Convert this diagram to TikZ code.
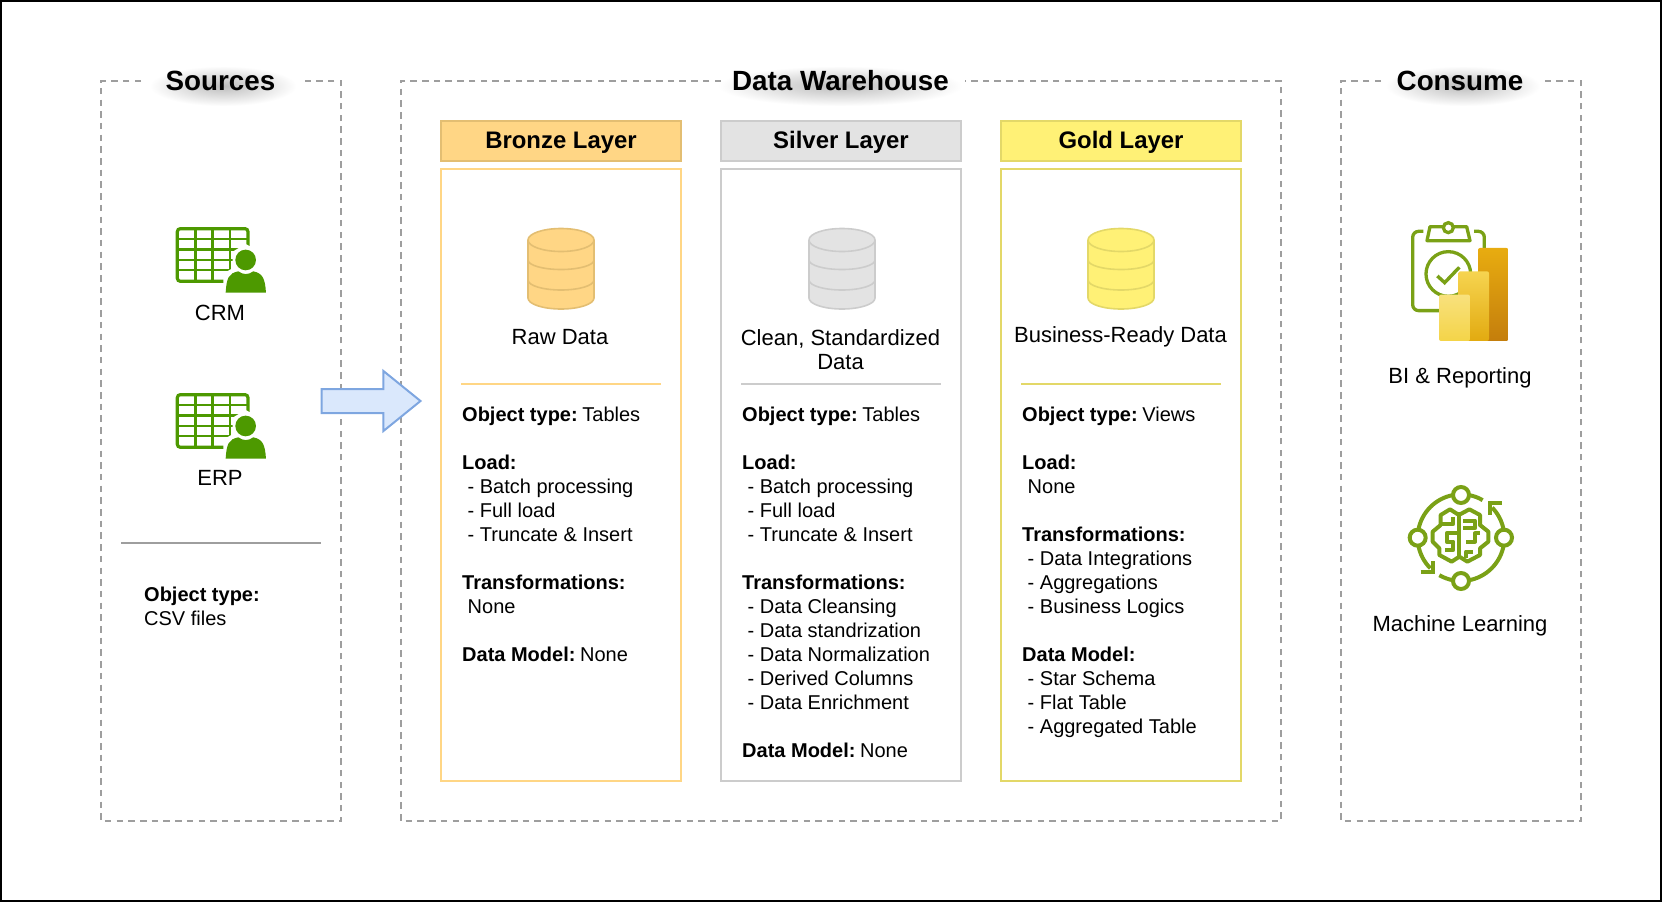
\documentclass[tikz,border=0pt]{standalone}
\usepackage{fontspec}
\setmainfont{Liberation Sans}
\usetikzlibrary{fadings,shapes.arrows}
\definecolor{zonegray}{HTML}{9E9E9E}
\definecolor{bronzefill}{HTML}{FFD685}
\definecolor{bronzeline}{HTML}{E3BE72}
\definecolor{silverfill}{HTML}{E3E3E3}
\definecolor{silverline}{HTML}{CCCCCC}
\definecolor{goldfill}{HTML}{FFF176}
\definecolor{goldline}{HTML}{E3D868}
\definecolor{csvgreen}{HTML}{4D9900}
\definecolor{iconolive}{HTML}{7AA116}
\definecolor{arrowline}{HTML}{7EA6E0}
\definecolor{arrowfill}{HTML}{DAE8FC}
\tikzfading[name=titlefuzz,inner color=transparent!74,outer color=transparent!100]
\tikzset{
  zonebox/.style={draw=zonegray,line width=1.8pt,dash pattern=on 6.5pt off 5.2pt},
  zonetitle/.style={font=\fontsize{27.8}{30}\selectfont\bfseries,inner sep=0pt,text height=20pt,text depth=6pt},
  layerhead/.style={line width=2pt,minimum width=240pt,minimum height=40pt,inner sep=0pt,text height=18pt,text depth=4pt,font=\fontsize{23.9}{26}\selectfont\bfseries},
  layerbody/.style={line width=2pt,minimum width=240pt,minimum height=612pt,inner sep=0pt},
  plainlabel/.style={font=\fontsize{22}{24}\selectfont,inner sep=0pt,align=center},
  notes/.style={font=\fontsize{20}{24}\selectfont,inner sep=0pt,align=left,anchor=north west},
}
% data store icon: x, fill, line
\newcommand{\datastore}[3]{
  \filldraw[fill=#2,draw=#3,line width=1.6pt] (#1-33,240) arc[start angle=180,end angle=360,x radius=33,y radius=11.5]
    -- (#1+33,298) arc[start angle=0,end angle=180,x radius=33,y radius=11] -- cycle;
  \draw[draw=#3,line width=1.6pt] (#1-33,240) arc[start angle=180,end angle=0,x radius=33,y radius=11.5];
  \draw[draw=#3,line width=1.6pt] (#1-33,260) arc[start angle=180,end angle=0,x radius=33,y radius=9.5];
  \draw[draw=#3,line width=1.6pt] (#1-33,280) arc[start angle=180,end angle=0,x radius=33,y radius=10];
}
% table with person icon: shift of the zoomed grid
\newcommand{\csvicon}[1]{
  \begin{scope}[shift={(#1)},x=0.3333pt,y=-0.3333pt]
    \draw[csvgreen,line width=3.2pt,rounded corners=3pt] (262,506) rectangle (474,664);
    \draw[csvgreen,line width=2.4pt] (316,506)--(316,664) (368,506)--(368,664) (420,506)--(420,664);
    \draw[csvgreen,line width=2.4pt] (262,537)--(474,537) (262,568)--(474,568) (262,600)--(474,600) (262,630)--(474,630);
    \fill[white] (400,675)--(400,640)--(428,625)--(428,575)--(467,552)--(510,575)--(540,700)--(400,700)--cycle;
    \fill[csvgreen] (467,600) circle (31);
    \fill[csvgreen] (407,698) .. controls (410,655) and (415,640) .. (445,634) .. controls (460,645) and (475,645) .. (490,634) .. controls (518,640) and (525,655) .. (528,698) -- cycle;
  \end{scope}
}
\begin{document}
\begin{tikzpicture}[x=1pt,y=-1pt]
  \useasboundingbox (0,0) rectangle (1662,902);
  \draw[black,line width=2pt] (1,1) rectangle (1661,901);
  %zones
  \draw[zonebox] (141,81)--(101,81)--(101,821)--(341,821)--(341,81)--(305,81);
  \draw[zonebox] (721,81)--(401,81)--(401,821)--(1281,821)--(1281,81)--(965,81);
  \draw[zonebox] (1381,81)--(1341,81)--(1341,821)--(1581,821)--(1581,81)--(1545,81);
  %title shadows
  \fill[black,path fading=titlefuzz] (150,66) rectangle (296,106);
  \fill[black,path fading=titlefuzz] (718,66) rectangle (962,106);
  \fill[black,path fading=titlefuzz] (1386,66) rectangle (1540,106);
  \node[zonetitle] (srctitle) at (220.5,83) {Sources};
  \node[zonetitle] (dwtitle) at (840.5,83) {Data Warehouse};
  \node[zonetitle] (usetitle) at (1460,83) {Consume};
  %layers
  \node[layerhead,fill=bronzefill,draw=bronzeline] (bronzehead) at (561,141) {Bronze Layer};
  \node[layerhead,fill=silverfill,draw=silverline] (silverhead) at (841,141) {Silver Layer};
  \node[layerhead,fill=goldfill,draw=goldline] (goldhead) at (1121,141) {Gold Layer};
  \node[layerbody,draw=bronzefill] (bronzebody) at (561,475) {};
  \node[layerbody,draw=silverline] (silverbody) at (841,475) {};
  \node[layerbody,draw=goldline] (goldbody) at (1121,475) {};
  \datastore{561}{bronzefill}{bronzeline}
  \datastore{842}{silverfill}{silverline}
  \datastore{1121}{goldfill}{goldline}
  \node[plainlabel] (rawlabel) at (560,337) {Raw Data};
  \node[plainlabel] (cleanlabel) at (840.5,350) {Clean, Standardized\\Data};
  \node[plainlabel] (readylabel) at (1120.5,337) {Business-Ready Data};
  \draw[bronzefill,line width=2pt] (461,384)--(661,384);
  \draw[silverline,line width=2pt] (741,384)--(941,384);
  \draw[goldline,line width=2pt] (1021,384)--(1221,384);
  %layer notes
  \node[notes] (bronzenotes) at (462,406.7) {\textbf{Object type:}\hspace{4.6pt}Tables\\ \\ \textbf{Load:}\\\hspace*{5.5pt}- Batch processing\\\hspace*{5.5pt}- Full load\\\hspace*{5.5pt}- Truncate \& Insert\\ \\ \textbf{Transformations:}\\\hspace*{5.5pt}None\\ \\ \textbf{Data Model:}\hspace{4.6pt}None};
  \node[notes] (silvernotes) at (742,406.7) {\textbf{Object type:}\hspace{4.6pt}Tables\\ \\ \textbf{Load:}\\\hspace*{5.5pt}- Batch processing\\\hspace*{5.5pt}- Full load\\\hspace*{5.5pt}- Truncate \& Insert\\ \\ \textbf{Transformations:}\\\hspace*{5.5pt}- Data Cleansing\\\hspace*{5.5pt}- Data standrization\\\hspace*{5.5pt}- Data Normalization\\\hspace*{5.5pt}- Derived Columns\\\hspace*{5.5pt}- Data Enrichment\\ \\ \textbf{Data Model:}\hspace{4.6pt}None};
  \node[notes] (goldnotes) at (1022,406.7) {\textbf{Object type:}\hspace{4.6pt}Views\\ \\ \textbf{Load:}\\\hspace*{5.5pt}None\\ \\ \textbf{Transformations:}\\\hspace*{5.5pt}- Data Integrations\\\hspace*{5.5pt}- Aggregations\\\hspace*{5.5pt}- Business Logics\\ \\ \textbf{Data Model:}\\\hspace*{5.5pt}- Star Schema\\\hspace*{5.5pt}- Flat Table\\\hspace*{5.5pt}- Aggregated Table};
  %sources
  \csvicon{90,60}
  \csvicon{90,226}
  \node[plainlabel] (crmlabel) at (220,313) {CRM};
  \node[plainlabel] (erplabel) at (220,478) {ERP};
  \draw[zonegray,line width=2pt] (121,543)--(321,543);
  \node[notes] (srcnotes) at (144,586.8) {\textbf{Object type:}\\CSV files};
  %block arrow
  \node[single arrow,draw=arrowline,fill=arrowfill,text height=22pt,text depth=0pt,text width=0pt,minimum height=99pt,inner sep=0pt,outer sep=0pt,single arrow head extend=18pt,single arrow head indent=0pt,single arrow tip angle=78,line width=2pt,anchor=tail] (loadarrow) at (321.5,401) {};
  %report icon
  \begin{scope}[shift={(1330,60)},x=0.3333pt,y=-0.3333pt]
    \draw[iconolive,line width=3.3pt,rounded corners=6pt] (280,514)--(248,514)--(248,752)--(330,752);
    \draw[iconolive,line width=3.3pt,rounded corners=6pt] (432,514)--(463,514)--(463,570);
    \draw[iconolive,line width=3.3pt,line join=round] (300,500)--(410,500)--(420,542)--(291,542)--cycle;
    \filldraw[draw=iconolive,fill=white,line width=3.3pt] (355,503) circle (15);
    \draw[iconolive,line width=3.3pt] (355,642) circle (67);
    \draw[iconolive,line width=3.4pt] (322,648)--(344,668)--(388,622);
    \shade[rounded corners=2pt,top color={rgb,255:red,232;green,172;blue,16},bottom color={rgb,255:red,196;green,126;blue,12}] (444,564) rectangle (535,843);
    \shade[rounded corners=2pt,top color={rgb,255:red,246;green,212;blue,80},bottom color={rgb,255:red,226;green,170;blue,16}] (385,634) rectangle (477,843);
    \shade[rounded corners=2pt,top color={rgb,255:red,248;green,225;blue,125},bottom color={rgb,255:red,244;green,212;blue,72}] (327,704) rectangle (420,843);
  \end{scope}
  \node[plainlabel] (bilabel) at (1460,378) {BI \& Reporting};
  %learning icon
  \begin{scope}[shift={(1380,470)},x=0.3333pt,y=-0.3333pt,iconolive,line width=4pt]
    \draw (243,75) circle (24) (113,203) circle (24) (372,203) circle (24) (243,333) circle (24);
    \draw (243,203) ++(-100:130) arc[start angle=-100,end angle=-170,radius=130];
    \draw (243,203) ++(-80:130) arc[start angle=-80,end angle=-60,radius=130];
    \draw (243,203) ++(-10:130) arc[start angle=-10,end angle=-44,radius=130];
    \draw (243,203) ++(10:130) arc[start angle=10,end angle=80,radius=130];
    \draw (243,203) ++(100:130) arc[start angle=100,end angle=120,radius=130];
    \draw (243,203) ++(170:130) arc[start angle=170,end angle=135,radius=130];
    \draw (365,100)--(331,100)--(331,135);
    \draw (122,306)--(160,306)--(160,272);
    %brain
    \begin{scope}[shift={(150,90)},line join=round]
      \draw (82,42)--(60,28)--(32,45)--(32,75)--(8,95)--(8,125)--(28,145)--(28,165)--(65,185)--(88,170)--(112,185)--(150,165)--(150,145)--(175,125)--(175,95)--(150,75)--(150,45)--(118,28)--(92,42)--cycle;
      \draw (88,42)--(88,170);
      \draw (32,72)--(70,72)--(70,50);
      \draw (82,100)--(50,100)--(50,125)--(70,125)--(70,150)--(45,150);
      \draw (100,62)--(135,62)--(135,85)--(100,85);
      \draw (108,125)--(135,125)--(135,100)--(150,100);
      \draw (108,175)--(108,155)--(130,155);
    \end{scope}
  \end{scope}
  \node[plainlabel] (mllabel) at (1460,626) {Machine Learning};
\end{tikzpicture}
\end{document}
